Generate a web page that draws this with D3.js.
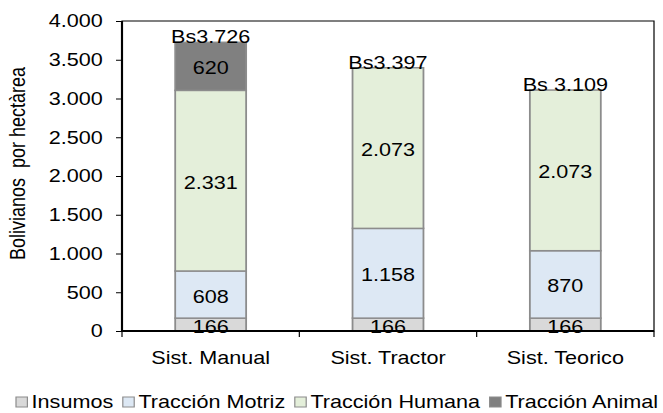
<!DOCTYPE html>
<html>
<head>
<meta charset="utf-8">
<script src="https://cdn.jsdelivr.net/npm/d3@7"></script>
<style>
    body { margin: 0; background: #fff; }
    text { font-family: "Liberation Sans", Arial, sans-serif; fill: #000; }
</style>
</head>
<body>
<div id="chart"></div>
<script>
// ---- data ----
const categories = ["Sist. Manual", "Sist. Tractor", "Sist. Teorico"];
const seriesNames = ["Insumos", "Tracción Motriz", "Tracción Humana", "Tracción Animal"];
const insumos = [166, 166, 166];
const traccionMotriz = [608, 1158, 870];
const traccionHumana = [2331, 2073, 2073];
const traccionAnimal = [620, 0, 0];
const totalLabels = ["Bs3.726", "Bs3.397", "Bs 3.109"];
const yTicks = [0, 500, 1000, 1500, 2000, 2500, 3000, 3500, 4000];
const seriesColors = ["#d9d9d9", "#dde8f4", "#e4efda", "#808080"];

// the original picture is stretched sideways, so draw narrower and stretch the svg
const SX = 1.2;
const W = 663, H = 413;
const margin = {top: 21, right: 9 / SX, bottom: 82, left: 122 / SX};
const width = W / SX - margin.left - margin.right;
const height = H - margin.top - margin.bottom;
const font = '"Liberation Sans", Arial, sans-serif';

const svg = d3.select("#chart").append("svg")
    .attr("width", W)
    .attr("height", H)
    .attr("viewBox", `0 0 ${W / SX} ${H}`)
    .attr("preserveAspectRatio", "none");

const g = svg.append("g")
    .attr("transform", `translate(${margin.left},${margin.top})`);

// rows for the stack
let rows = categories.map((c, i) => ({
    cat: c,
    "Insumos": insumos[i],
    "Tracción Motriz": traccionMotriz[i],
    "Tracción Humana": traccionHumana[i],
    "Tracción Animal": traccionAnimal[i]
}));
let stacked = d3.stack().keys(seriesNames)(rows);

let x = d3.scaleBand().domain(categories).range([0, width]);
let y = d3.scaleLinear().domain([0, 4000]).range([height, 0]);
let color = d3.scaleOrdinal().domain(seriesNames).range(seriesColors);
let fmt = d3.formatLocale({decimal: ",", thousands: ".", grouping: [3], currency: ["", ""]}).format(",.0f");

let barW = x.bandwidth() * 0.4;
let barX = d => x(d.data.cat) + (x.bandwidth() - barW) / 2;

// plot frame
g.append("rect")
    .attr("width", width)
    .attr("height", height)
    .attr("fill", "none")
    .attr("stroke", "#000")
    .attr("stroke-width", 1);

// bar segments
g.selectAll(".layer")
    .data(stacked)
    .join("g")
    .attr("class", "layer")
    .attr("fill", s => color(s.key))
    .selectAll("rect")
    .data(s => s.filter(d => d[1] > d[0]))
    .join("rect")
    .attr("x", barX)
    .attr("width", barW)
    .attr("y", d => y(d[1]))
    .attr("height", d => y(d[0]) - y(d[1]))
    .attr("stroke", "#8c8c8c")
    .attr("stroke-width", 1.5);

// segment value labels
g.selectAll(".seg-labels")
    .data(stacked)
    .join("g")
    .attr("class", "seg-labels")
    .selectAll("text")
    .data(s => s.filter(d => d[1] > d[0]))
    .join("text")
    .attr("x", d => x(d.data.cat) + x.bandwidth() / 2)
    .attr("y", d => (y(d[0]) + y(d[1])) / 2 + 8)
    .attr("text-anchor", "middle")
    .attr("font-size", 18)
    .text(d => fmt(d[1] - d[0]));

// totals on top
let last = stacked[stacked.length - 1];
g.selectAll(".total")
    .data(last)
    .join("text")
    .attr("class", "total")
    .attr("x", d => x(d.data.cat) + x.bandwidth() / 2)
    .attr("y", d => y(d[1]) + 1)
    .attr("text-anchor", "middle")
    .attr("font-size", 18)
    .text((d, i) => totalLabels[i]);

// y axis
let yAxis = d3.axisLeft(y)
    .tickValues(yTicks)
    .tickFormat(fmt)
    .tickSize(5)
    .tickPadding(11);

g.append("g")
    .attr("class", "y-axis")
    .call(yAxis)
    .attr("font-size", 18)
    .attr("font-family", font)
    .call(a => a.select(".domain").remove());

// x axis: labels under bands, ticks on band edges
g.append("g")
    .attr("class", "x-ticks")
    .selectAll("line")
    .data(categories.map(c => x(c)).concat([width]))
    .join("line")
    .attr("x1", d => d).attr("x2", d => d)
    .attr("y1", height).attr("y2", height + 6)
    .attr("stroke", "#000")
    .attr("stroke-width", 1);

g.append("g")
    .attr("class", "x-labels")
    .selectAll("text")
    .data(categories)
    .join("text")
    .attr("x", d => x(d) + x.bandwidth() / 2)
    .attr("y", height + 33)
    .attr("text-anchor", "middle")
    .attr("font-size", 18)
    .text(d => d);

// heavy axis lines
g.append("line")
    .attr("x1", 0).attr("x2", 0)
    .attr("y1", 0).attr("y2", height)
    .attr("stroke", "#000").attr("stroke-width", 1.8);
g.append("line")
    .attr("x1", 0).attr("x2", width)
    .attr("y1", height).attr("y2", height)
    .attr("stroke", "#000").attr("stroke-width", 2.2);

// y title
svg.append("text")
    .attr("transform", `translate(${24.5 / SX},163.5) rotate(-90)`)
    .attr("text-anchor", "middle")
    .attr("font-size", 18)
    .attr("xml:space", "preserve")
    .text("Bolivianos  por hectàrea");

// legend
let lx = 16 / SX;
seriesNames.forEach((name, i) => {
    let item = svg.append("g").attr("class", "legend-item");
    item.append("rect")
        .attr("x", lx).attr("y", 397)
        .attr("width", 9.5).attr("height", 10)
        .attr("fill", seriesColors[i])
        .attr("stroke", "#8c8c8c")
        .attr("stroke-width", 1);
    let t = item.append("text")
        .attr("x", lx + 13)
        .attr("y", 408)
        .attr("font-size", 18)
        .text(name);
    lx += 13 + t.node().getComputedTextLength() + 8;
});
</script>
</body>
</html>
